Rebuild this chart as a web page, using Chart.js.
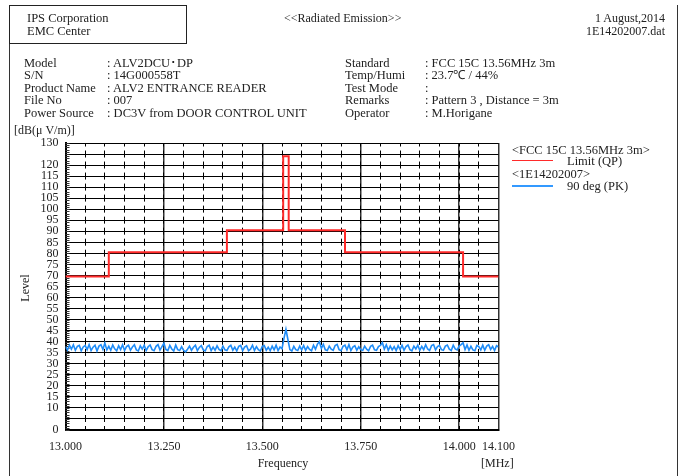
<!DOCTYPE html>
<html>
<head>
<meta charset="utf-8">
<script src="https://cdn.jsdelivr.net/npm/chart.js@4"></script>
<style>
body{margin:0;background:#fff;}
#page{position:relative;width:683px;height:476px;overflow:hidden;font-family:"Liberation Serif",serif;font-size:12px;color:#222;}
#page canvas{position:absolute;left:0;top:0;}
.t{position:absolute;white-space:nowrap;line-height:13px;}
.w{font-size:12.5px;}
.col{position:absolute;white-space:nowrap;line-height:12.6px;font-size:12.5px;}
.ln{position:absolute;}
</style>
</head>
<body>
<div id="page">
  <canvas id="myChart" width="683" height="476"></canvas>

  <div class="ln" style="left:9px;top:5px;width:1px;height:471px;background:#333"></div>
  <div class="ln" style="left:677px;top:5px;width:1px;height:471px;background:#333"></div>
  <div class="ln" style="left:9px;top:5px;width:176px;height:37px;border:1px solid #222"></div>

  <div class="t w" style="left:27px;top:11.5px">IPS Corporation</div>
  <div class="t w" style="left:27px;top:24.5px">EMC Center</div>
  <div class="t" style="left:284px;top:11.5px">&lt;&lt;Radiated Emission&gt;&gt;</div>
  <div class="t" style="right:18px;top:11.5px;text-align:right">1 August,2014<br>1E14202007.dat</div>

  <div class="col" style="left:24px;top:56.5px">Model<br>S/N<br>Product Name<br>File No<br>Power Source</div>
  <div class="col" style="left:107px;top:56.5px">: ALV2DCU･DP<br>: 14G000558T<br>: ALV2 ENTRANCE READER<br>: 007<br>: DC3V from DOOR CONTROL UNIT</div>
  <div class="col" style="left:345px;top:56.5px">Standard<br>Temp/Humi<br>Test Mode<br>Remarks<br>Operator</div>
  <div class="col" style="left:425px;top:56.5px">: FCC 15C 13.56MHz 3m<br>: 23.7℃ / 44%<br>:<br>: Pattern 3 , Distance = 3m<br>: M.Horigane</div>

  <div class="t" style="left:14px;top:123.5px">[dB(μ V/m)]</div>
  <div class="t" style="left:25px;top:288px;transform:translate(-50%,-50%) rotate(-90deg)">Level</div>
  <div class="t" style="left:283px;top:463px;transform:translate(-50%,-50%)">Frequency</div>
  <div class="t" style="left:481px;top:456.5px">[MHz]</div>

  <div class="t w" style="left:512px;top:143.5px">&lt;FCC 15C 13.56MHz 3m&gt;</div>
  <div class="ln" style="left:512px;top:159.5px;width:41px;height:1.5px;background:#ff2a2a"></div>
  <div class="t w" style="left:567px;top:154.5px">Limit (QP)</div>
  <div class="t w" style="left:512px;top:167.5px">&lt;1E14202007&gt;</div>
  <div class="ln" style="left:512px;top:185px;width:41px;height:1.5px;background:#3399ff"></div>
  <div class="t w" style="left:567px;top:180px">90 deg (PK)</div>
</div>

<script>
// limit line (FCC 15C 13.56MHz, 3m)
var limitFreq  = [13.0, 13.110, 13.410, 13.553, 13.567, 13.710, 14.010, 14.1];
var limitLevel = [69.5, 80.5,   90.5,   124.0,  90.5,   80.5,   69.5,   69.5];

// measured trace, 90 deg (PK), sweep 13.000 .. 14.100 MHz
var sweepStart = 13.0;
var sweepStep  = 0.005;
var peakLevel = [
  37.8, 36.2, 38.4, 36.6, 38.6, 36.1, 37.9, 38.3, 35.9, 37.6,
  38.3, 36.4, 38.7, 36.0, 37.5, 38.4, 35.8, 38.0, 38.6, 36.5,
  39.4, 36.3, 37.9, 36.1, 38.5, 36.8, 35.9, 38.2, 36.4, 38.6,
  36.0, 37.8, 38.4, 36.1, 37.6, 38.6, 36.3, 35.8, 38.1, 36.6,
  38.4, 36.0, 37.7, 38.5, 36.4, 35.9, 37.9, 38.7, 36.2, 37.8,
  39.3, 36.5, 36.0, 38.3, 36.7, 35.8, 38.5, 36.4, 36.0, 37.7,
  36.1, 35.4, 36.6, 38.0, 36.1, 37.5, 38.4, 35.9, 37.4, 38.2,
  36.3, 35.8, 37.8, 38.4, 36.0, 37.6, 36.1, 38.1, 36.5, 35.9,
  38.0, 36.3, 36.0, 37.7, 38.4, 36.1, 37.5, 35.8, 37.9, 38.3,
  36.0, 37.6, 38.2, 35.9, 36.6, 38.4, 36.0, 37.8, 36.4, 35.8,
  37.9, 38.3, 36.1, 37.5, 35.9, 38.0, 36.3, 38.4, 36.0, 37.6,
  36.8, 41.5, 45.6, 41.0, 36.4, 35.8, 37.9, 36.4, 36.0, 38.0,
  36.3, 38.3, 36.1, 37.8, 36.5, 35.9, 38.4, 36.6, 38.9, 40.0,
  37.0, 38.8, 36.3, 36.0, 38.0, 36.6, 36.1, 38.3, 38.8, 36.4,
  35.9, 37.9, 38.4, 36.3, 38.7, 36.0, 37.6, 38.2, 36.1, 37.7,
  36.4, 36.0, 38.0, 36.6, 35.9, 37.9, 38.4, 36.3, 36.1, 37.8,
  38.3, 39.6, 36.6, 38.6, 36.1, 38.0, 36.3, 37.8, 36.0, 38.2,
  36.5, 38.4, 36.1, 37.8, 38.5, 36.4, 35.9, 38.0, 36.7, 38.4,
  36.1, 37.9, 36.4, 38.6, 36.7, 36.0, 38.2, 38.7, 36.3, 37.8,
  38.3, 36.4, 36.1, 38.0, 38.5, 36.6, 36.0, 38.4, 36.7, 36.3,
  38.0, 38.7, 39.5, 36.4, 38.5, 36.1, 37.9, 36.3, 35.9, 38.3,
  37.8, 36.3, 38.4, 36.1, 38.0, 38.6, 36.5, 37.9, 36.0, 38.2,
  37.6
];

// axis labels
var freqTicks  = [13.0, 13.25, 13.5, 13.75, 14.0, 14.1];
var levelTicks = [0, 10, 15, 20, 25, 30, 35, 40, 45, 50, 55, 60, 65, 70, 75, 80, 85, 90, 95, 100, 105, 110, 115, 120, 130];

var limitData = limitFreq.map(function(f, i){ return {x: f, y: limitLevel[i]}; });
var peakData = peakLevel.map(function(v, i){ return {x: sweepStart + i*sweepStep, y: v}; });

// small inside ticks every 1 dB on the left edge
var rulerPlugin = {
  id: 'ruler',
  beforeDatasetsDraw: function(chart){
    var c = chart.ctx, y = chart.scales.y, left = chart.chartArea.left;
    c.save();
    c.strokeStyle = '#333';
    c.lineWidth = 1;
    c.beginPath();
    for(var v = 0; v <= 130; v++){
      var py = Math.round(y.getPixelForValue(v)) + 0.5;
      c.moveTo(left, py);
      c.lineTo(left + 4, py);
    }
    c.stroke();
    c.restore();
  }
};

var tickFont = {family: 'Liberation Serif', size: 12};
var ctx = document.getElementById('myChart').getContext('2d');
var myChart = new Chart(ctx, {
  type: 'line',
  data: {
    datasets: [{
      label: 'Limit (QP)',
      data: limitData,
      borderColor: '#ff2a2a',
      borderWidth: 2,
      stepped: true,
      pointRadius: 0,
      fill: false
    }, {
      label: '90 deg (PK)',
      data: peakData,
      borderColor: '#1f8cf7',
      borderWidth: 1.6,
      pointRadius: 0,
      tension: 0,
      fill: false
    }]
  },
  options: {
    responsive: false,
    animation: false,
    devicePixelRatio: 1,
    layout: {padding: {top: 143, left: 0, right: 184.5, bottom: 0}},
    plugins: {legend: {display: false}, tooltip: {enabled: false}},
    scales: {
      x: {
        type: 'linear',
        min: 13.0,
        max: 14.1,
        afterBuildTicks: function(scale){
          scale.ticks = freqTicks.map(function(v){ return {value: v}; });
        },
        afterFit: function(scale){ scale.height = 46; },
        ticks: {
          color: '#222',
          font: tickFont,
          padding: 10,
          maxRotation: 0,
          autoSkip: false,
          callback: function(v){ return Number(v).toFixed(3); }
        },
        grid: {color: '#333', lineWidth: 1.5, drawTicks: false},
        border: {color: '#000', width: 2}
      },
      xMinor: {
        type: 'linear',
        position: 'bottom',
        min: 13.0,
        max: 14.1,
        afterBuildTicks: function(scale){
          var t = [];
          for(var i = 1; i < 22; i++){ t.push({value: 13.0 + i*0.05}); }
          scale.ticks = t;
        },
        afterFit: function(scale){ scale.height = 0; },
        ticks: {display: false},
        grid: {color: '#000', lineWidth: 1, drawTicks: false},
        border: {display: false, dash: [7, 4.02], dashOffset: 3.5}
      },
      y: {
        min: 0,
        max: 130,
        afterFit: function(scale){ scale.width = 65.5; },
        ticks: {
          stepSize: 5,
          color: '#222',
          font: tickFont,
          padding: 7,
          autoSkip: false,
          callback: function(v){ return levelTicks.indexOf(v) >= 0 ? String(v) : ''; }
        },
        grid: {color: '#000', lineWidth: 1, drawTicks: false},
        border: {color: '#000', width: 2}
      }
    }
  },
  plugins: [rulerPlugin]
});
</script>
</body>
</html>
